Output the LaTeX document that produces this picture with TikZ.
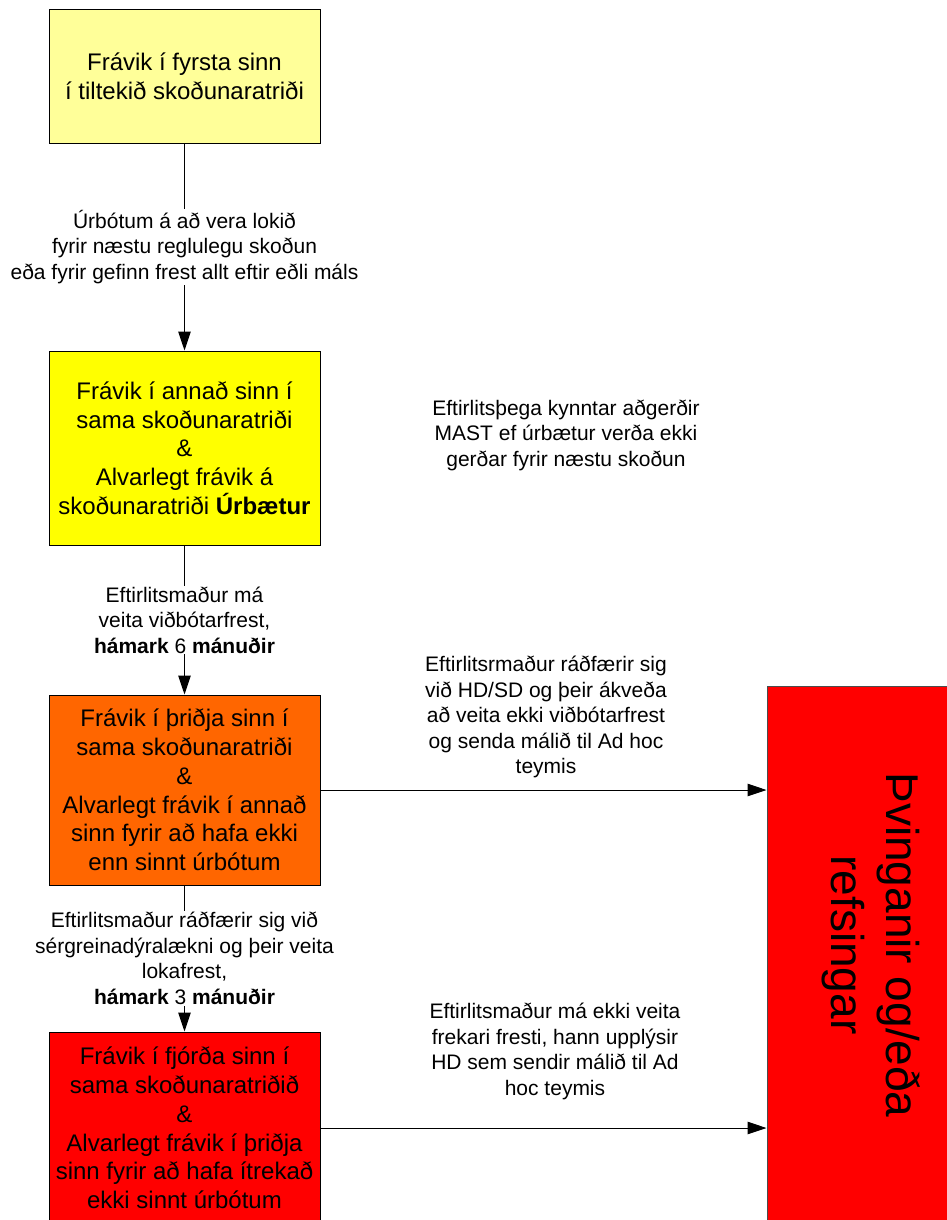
\documentclass[tikz,border=0pt]{standalone}
\usepackage{fontspec}
\setmainfont{Liberation Sans}
\usetikzlibrary{arrows.meta}
\definecolor{lightyel}{HTML}{FFFF99}
\definecolor{yel}{HTML}{FFFF00}
\definecolor{orng}{HTML}{FF6600}
\definecolor{rd}{HTML}{FF0000}
\tikzset{
  box/.style={draw=black, line width=1pt, rectangle, inner sep=0pt, align=center,
    minimum width=271pt, font=\fontsize{24}{28.75}\selectfont},
  lbl/.style={fill=white, inner xsep=2pt, inner ysep=1pt, align=center,
    font=\fontsize{21}{25.5}\selectfont},
  note/.style={inner sep=0pt, align=center, font=\fontsize{21}{25.5}\selectfont},
  arr/.style={draw=black, line width=1pt, -{Triangle[length=19pt,width=12.5pt]}},
}
\begin{document}
\begin{tikzpicture}[x=1pt,y=-1pt]
\useasboundingbox (0,0) rectangle (947,1220);
% boxes
\node[box, fill=lightyel, minimum height=133pt] (b1) at (184.5,76.5)
  {Frávik í fyrsta sinn\\í tiltekið skoðunaratriði};
\node[box, fill=yel, minimum height=194pt] (b2) at (184.5,448)
  {Frávik í annað sinn í\\sama skoðunaratriði\\\&\\Alvarlegt frávik á\\skoðunaratriði \textbf{Úrbætur}};
\node[box, fill=orng, minimum height=190pt] (b3) at (184.5,790)
  {Frávik í þriðja sinn í\\sama skoðunaratriði\\\&\\Alvarlegt frávik í annað\\sinn fyrir að hafa ekki\\enn sinnt úrbótum};
\node[box, fill=rd, minimum height=192pt] (b4) at (184.5,1128)
  {Frávik í fjórða sinn í\\sama skoðunaratriðið\\\&\\Alvarlegt frávik í þriðja\\sinn fyrir að hafa ítrekað\\ekki sinnt úrbótum};
\node[draw=black!70, line width=1pt, fill=rd, rectangle, inner sep=0pt,
  minimum width=223pt, minimum height=554pt] (big) at (878.5,963) {};
\node[inner sep=0pt, align=center, rotate=-90, font=\fontsize{46}{55}\selectfont] (bigtext) at (871,945)
  {Þvinganir og/eða\\refsingar};
% vertical connectors
\draw[arr] (b1) -- node[lbl] (l1)
  {Úrbótum á að vera lokið\\fyrir næstu reglulegu skoðun\\eða fyrir gefinn frest allt eftir eðli máls} (b2);
\draw[arr] (b2) -- node[lbl] (l2)
  {Eftirlitsmaður má\\veita viðbótarfrest,\\\textbf{hámark} 6 \textbf{mánuðir}} (b3);
\draw[arr] (b3) -- node[lbl] (l3)
  {Eftirlitsmaður ráðfærir sig við\\sérgreinadýralækni og þeir veita\\lokafrest,\\\textbf{hámark} 3 \textbf{mánuðir}} (b4);
% horizontal connectors
\draw[arr] (b3.east) -- (b3.east -| big.west);
\draw[arr] (b4.east) -- (b4.east -| big.west);
% free notes
\node[note] (n1) at (566,435)
  {Eftirlitsþega kynntar aðgerðir\\MAST ef úrbætur verða ekki\\gerðar fyrir næstu skoðun};
\node[note] (n2) at (546,717)
  {Eftirlitsrmaður ráðfærir sig\\við HD/SD og þeir ákveða\\að veita ekki viðbótarfrest\\og senda málið til Ad hoc\\teymis};
\node[note] (n3) at (555,1051.5)
  {Eftirlitsmaður má ekki veita\\frekari fresti, hann upplýsir\\HD sem sendir málið til Ad\\hoc teymis};
\end{tikzpicture}
\end{document}
